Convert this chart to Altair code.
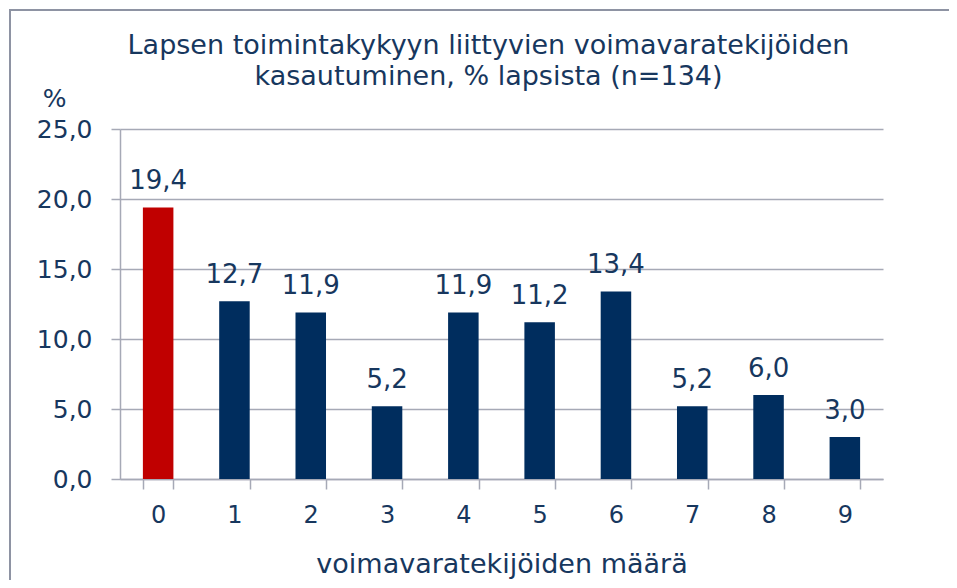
import altair as alt
import pandas as pd

categories = [0, 1, 2, 3, 4, 5, 6, 7, 8, 9]
values = [19.4, 12.7, 11.9, 5.2, 11.9, 11.2, 13.4, 5.2, 6.0, 3.0]
highlight = [True, False, False, False, False, False, False, False, False, False]

title_lines = ["Lapsen toimintakykyyn liittyvien voimavaratekijöiden",
               "kasautuminen, % lapsista (n=134)"]
x_title = "voimavaratekijöiden määrä"
y_title = "%"
y_ticks = [0, 5, 10, 15, 20, 25]

FONT = "DejaVu Sans"
TEXT = "#17375E"
NAVY = "#002D5E"
RED = "#C00000"
GRID = "#A6A9B6"
FRAME = "#8E93A3"

df = pd.DataFrame({"cat": categories, "value": values, "hl": highlight})

base = alt.Chart(df).transform_calculate(
    label="replace(format(datum.value, '.1f'), '.', ',')"
)

bars = base.mark_bar().encode(
    x=alt.X("cat:O",
            scale=alt.Scale(paddingInner=0.6, paddingOuter=0.3),
            axis=alt.Axis(title=x_title, labelAngle=0, tickBand="extent",
                          tickSize=10, tickColor=GRID, domainColor=GRID,
                          domainWidth=1.5, tickWidth=1.5,
                          labelFont=FONT, labelFontSize=24, labelColor=TEXT,
                          labelBaseline="alphabetic", labelPadding=33,
                          titleFont=FONT, titleFontSize=27, titleColor=TEXT,
                          titleFontWeight="normal", titleY=93,
                          titleBaseline="alphabetic")),
    y=alt.Y("value:Q",
            scale=alt.Scale(domain=[0, 25], nice=False),
            axis=alt.Axis(title=y_title, values=y_ticks,
                          labelExpr="replace(format(datum.value, '.1f'), '.', ',')",
                          tickSize=9, tickColor=GRID, domainColor=GRID,
                          domainWidth=1.5, tickWidth=1.5,
                          gridColor=GRID, gridWidth=1.5,
                          labelFont=FONT, labelFontSize=25, labelColor=TEXT,
                          labelPadding=19, labelBaseline="middle",
                          titleFont=FONT, titleFontSize=25, titleColor=TEXT,
                          titleFontWeight="normal", titleAngle=0,
                          titleX=-66, titleY=-23, titleAlign="center",
                          titleBaseline="alphabetic")),
    color=alt.condition("datum.hl", alt.value(RED), alt.value(NAVY)),
)

labels = base.mark_text(font=FONT, fontSize=26, color=TEXT,
                        baseline="alphabetic", dy=-18).encode(
    x=alt.X("cat:O"),
    y=alt.Y("value:Q"),
    text="label:N",
)

frame = alt.Chart(pd.DataFrame({"f": [0]})).mark_rect(
    fill=None, stroke=FRAME, strokeWidth=2
).encode(
    x=alt.value(-110), x2=alt.value(1200),
    y=alt.value(-119), y2=alt.value(900),
)

chart = alt.layer(bars, labels, frame).properties(
    width=763, height=350,
    background="white",
    title=alt.Title(title_lines, font=FONT, fontSize=27, color=TEXT,
                    fontWeight="normal", anchor="middle", frame="group",
                    dx=-13, offset=-103, baseline="alphabetic", lineHeight=31),
    autosize=alt.AutoSizeParams(type="none"),
    padding={"left": 112, "top": 121, "right": 66, "bottom": 101},
).configure_view(stroke=None)

chart.save("out.html", embed_options={"renderer": "svg", "actions": False})
